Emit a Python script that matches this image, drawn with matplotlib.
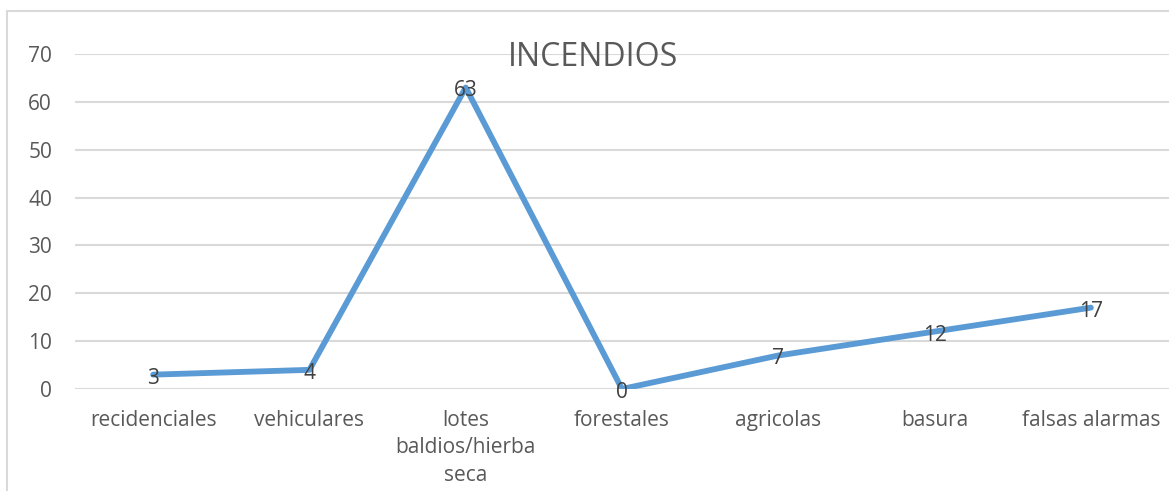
import matplotlib.pyplot as plt
from matplotlib.patches import Rectangle

categorias = ['recidenciales', 'vehiculares', 'lotes\nbaldios/hierba\nseca', 'forestales',
              'agricolas', 'basura', 'falsas alarmas']
incendios = [3, 4, 63, 0, 7, 12, 17]
ticks_y = [0, 10, 20, 30, 40, 50, 60, 70]

plt.rcParams['font.family'] = ['Open Sans', 'DejaVu Sans']

fig = plt.figure(figsize=(11.69, 4.91), dpi=100)
ax = fig.add_axes([75 / 1169, 102 / 491, 1094 / 1169, 335 / 491])

# marco del grafico (cortado a la derecha y abajo)
fig.patches.append(Rectangle((7 / 1169, -0.1), 1.2, 1 - 11 / 491 + 0.1,
                             transform=fig.transFigure, fill=False,
                             edgecolor='#D9D9D9', linewidth=1.5))

x = range(len(categorias))
ax.plot(x, incendios, color='#5B9BD5', linewidth=4.2, solid_capstyle='round', zorder=3)
for xi, v in zip(x, incendios):
    ax.annotate(str(v), (xi, v), xytext=(0, -2.5), textcoords='offset points',
                ha='center', va='center', fontsize=15, color='#404040', zorder=4)

ax.set_xlim(-0.5, len(categorias) - 0.5)
ax.set_ylim(0, 70)
ax.set_yticks(ticks_y)
ax.set_xticks(list(x))
ax.set_xticklabels(categorias, fontsize=15, color='#595959', linespacing=1.4)
ax.tick_params(axis='y', labelsize=15, labelcolor='#595959', length=0, pad=16.5)
ax.tick_params(axis='x', length=0, pad=15)
ax.grid(axis='y', color='#D9D9D9', linewidth=1.5)
ax.set_axisbelow(True)
for s in ax.spines.values():
    s.set_visible(False)

fig.text(593 / 1169, 1 - 57 / 491, 'INCENDIOS', ha='center', va='center',
         fontsize=23, color='#595959')

fig.savefig('out.png', dpi=100)
